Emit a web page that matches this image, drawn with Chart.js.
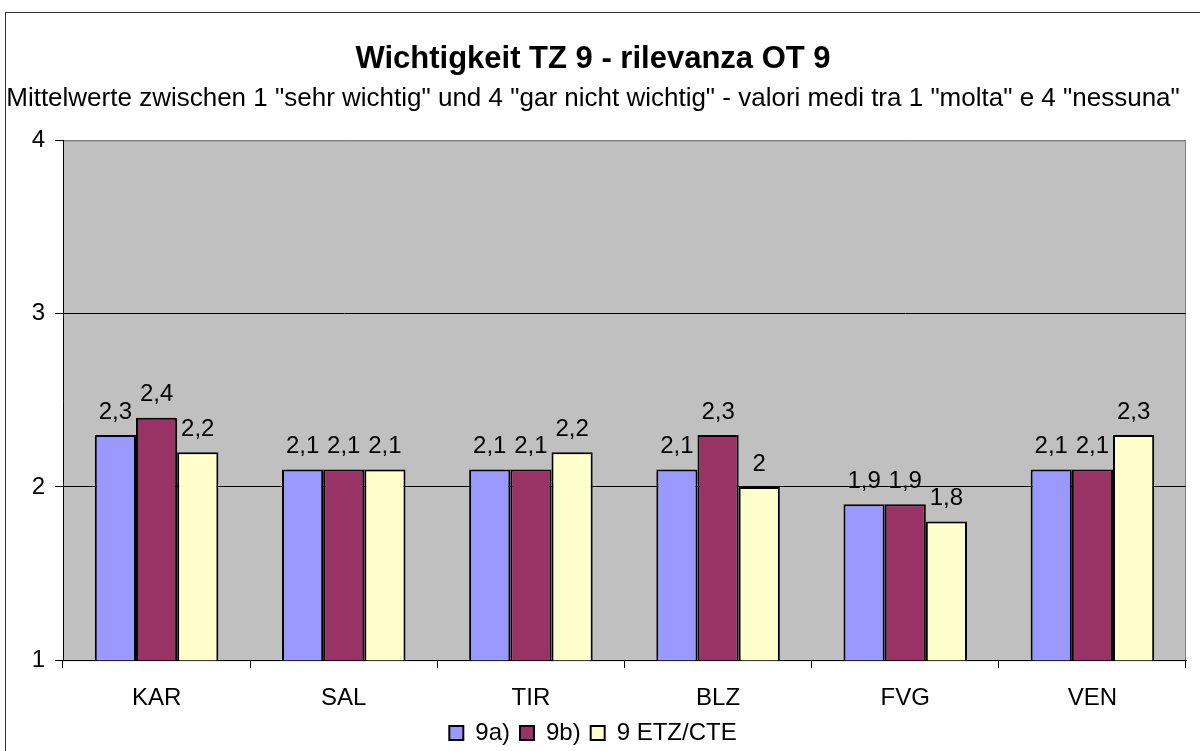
<!DOCTYPE html>
<html>
<head>
<meta charset="utf-8">
<script src="https://cdn.jsdelivr.net/npm/chart.js@4/dist/chart.umd.min.js"></script>
<style>
  body { margin: 0; background: #fff; }
  #wrap { position: relative; width: 1200px; height: 751px; }
  #frame { position: absolute; left: 5px; top: 12px; width: 1210px; height: 760px; border: 1px solid #333; box-sizing: border-box; }
  canvas { position: absolute; left: 0; top: 0; }
</style>
</head>
<body>
<div id="wrap">
  <div id="frame"></div>
  <canvas id="chart" width="1200" height="751"></canvas>
</div>
<script>
const regions = ['KAR', 'SAL', 'TIR', 'BLZ', 'FVG', 'VEN'];
const series9a = [2.3, 2.1, 2.1, 2.1, 1.9, 2.1];
const series9b = [2.4, 2.1, 2.1, 2.3, 1.9, 2.1];
const seriesEtz = [2.2, 2.1, 2.2, 2.0, 1.8, 2.3];
const yTicks = [1, 2, 3, 4];

const font = 'Arial, "Liberation Sans", sans-serif';
const ctx = document.getElementById('chart').getContext('2d');

// gray plot background + border
const plotBg = {
    id: 'plotBg',
    beforeDraw(chart) {
        const { ctx, chartArea: a } = chart;
        ctx.save();
        ctx.fillStyle = '#C0C0C0';
        ctx.fillRect(a.left, a.top, a.right - a.left, a.bottom - a.top);
        ctx.strokeStyle = '#808080';
        ctx.lineWidth = 1;
        ctx.strokeRect(a.left + 0.5, a.top + 0.5, a.right - a.left - 1, a.bottom - a.top);
        ctx.restore();
    }
};

// value labels above the bars
const valueLabels = {
    id: 'valueLabels',
    afterDatasetsDraw(chart) {
        const { ctx } = chart;
        ctx.save();
        ctx.font = '24px ' + font;
        ctx.fillStyle = '#000';
        ctx.textAlign = 'center';
        ctx.textBaseline = 'bottom';
        chart.data.datasets.forEach((ds, i) => {
            chart.getDatasetMeta(i).data.forEach((bar, j) => {
                const txt = String(ds.data[j]).replace('.', ',');
                ctx.fillText(txt, bar.x, bar.y - 11);
            });
        });
        ctx.restore();
    }
};

const chart = new Chart(ctx, {
    type: 'bar',
    data: {
        labels: regions,
        datasets: [
            { label: '9a)', data: series9a, backgroundColor: '#9999FF', borderColor: '#000', borderWidth: 2 },
            { label: '9b)', data: series9b, backgroundColor: '#993366', borderColor: '#000', borderWidth: 2 },
            { label: '9 ETZ/CTE', data: seriesEtz, backgroundColor: '#FFFFCC', borderColor: '#000', borderWidth: 2 }
        ]
    },
    options: {
        responsive: false,
        animation: false,
        layout: { padding: { left: 0, right: 14, top: 0, bottom: -4 } },
        datasets: {
            bar: { categoryPercentage: 0.66, barPercentage: 1.0, borderSkipped: 'start' }
        },
        plugins: {
            title: {
                display: true,
                text: 'Wichtigkeit TZ 9 - rilevanza OT 9',
                color: '#000',
                font: { family: font, size: 31, weight: 'bold', lineHeight: 1.2 },
                padding: { top: 41, bottom: 0 }
            },
            subtitle: {
                display: true,
                text: 'Mittelwerte zwischen 1 "sehr wichtig" und 4 "gar nicht wichtig" - valori medi tra 1 "molta" e 4 "nessuna"',
                color: '#000',
                font: { family: font, size: 26, lineHeight: 1.2 },
                padding: { top: 5, bottom: 26 }
            },
            legend: {
                position: 'bottom',
                labels: {
                    color: '#000',
                    font: { family: font, size: 24 },
                    boxWidth: 14,
                    boxHeight: 14,
                    padding: 10
                }
            },
            tooltip: { enabled: false }
        },
        scales: {
            x: {
                afterFit(scale) { scale.height -= 18; },
                grid: { drawOnChartArea: false, offset: true, tickLength: 8, color: '#000' },
                border: { color: '#000', width: 1 },
                ticks: { color: '#000', font: { family: font, size: 24 }, padding: 16 }
            },
            y: {
                min: 1,
                max: 4,
                afterBuildTicks(scale) {
                    scale.ticks = yTicks.map(v => ({ value: v }));
                },
                afterFit(scale) { scale.width = 63; },
                grid: {
                    tickLength: 8,
                    color: c => (c.tick && c.tick.value === 4) ? '#808080' : '#000',
                    tickColor: '#000'
                },
                border: { color: '#000', width: 1 },
                ticks: { color: '#000', font: { family: font, size: 24 }, padding: 10 }
            }
        }
    },
    plugins: [plotBg, valueLabels]
});
</script>
</body>
</html>
